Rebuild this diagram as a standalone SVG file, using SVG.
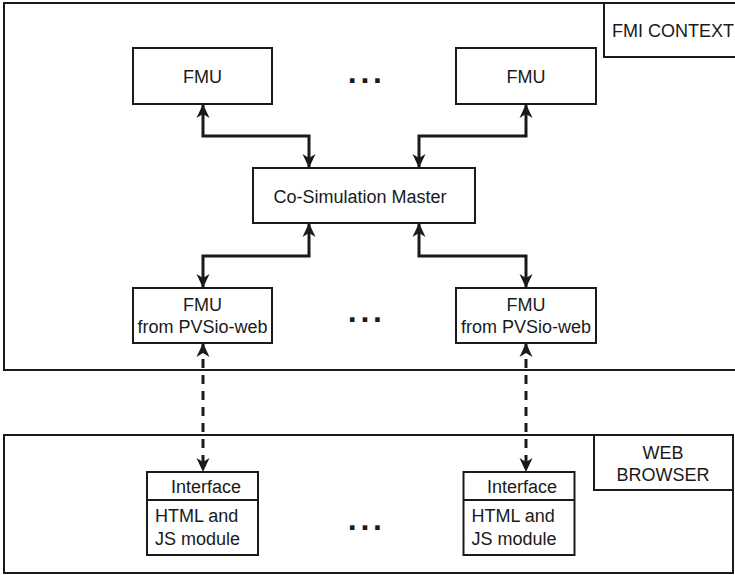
<svg xmlns="http://www.w3.org/2000/svg" width="735" height="575" viewBox="0 0 735 575">
  <style>
    .frame { fill: #ffffff; stroke: #1a1a1a; stroke-width: 2; }
    .box { fill: #ffffff; stroke: #1a1a1a; stroke-width: 2; }
    .lbl { font-family: "Liberation Sans", Arial, sans-serif; font-size: 18px; fill: #1a1a1a; }
    .mid { text-anchor: middle; }
    .dots { font-family: "Liberation Sans", Arial, sans-serif; font-size: 32px; font-weight: bold; fill: #1a1a1a; letter-spacing: 3.8px; }
    .link { fill: none; stroke: #1a1a1a; stroke-width: 3; marker-start: url(#head); marker-end: url(#head); }
    .dashed { stroke-dasharray: 9 7; }
  </style>
  <defs>
    <marker id="head" viewBox="0 0 14 14" refX="14" refY="7" markerWidth="14" markerHeight="14" markerUnits="userSpaceOnUse" orient="auto-start-reverse">
      <path d="M0,0.5 L14,7 L0,13.5 L4,7 Z" fill="#1a1a1a"/>
    </marker>
  </defs>

  <rect width="735" height="575" fill="#ffffff"/>

  <!-- FMI context frame -->
  <g id="fmi-context">
    <rect class="frame" x="4" y="3" width="745" height="367"/>
    <rect class="box" x="604" y="3" width="145" height="54"/>
    <text class="lbl" x="612" y="37">FMI CONTEXT</text>
  </g>

  <!-- web browser frame -->
  <g id="web-browser">
    <rect class="frame" x="4" y="435" width="729" height="138"/>
    <rect class="box" x="594" y="435" width="139" height="55"/>
    <text class="lbl mid" x="663" y="458.5">WEB</text>
    <text class="lbl mid" x="663" y="481">BROWSER</text>
  </g>

  <g id="fmu-1">
    <rect class="box" x="133" y="48" width="139" height="56"/>
    <text class="lbl mid" x="202.5" y="83">FMU</text>
  </g>
  <g id="fmu-n">
    <rect class="box" x="456" y="48" width="140" height="56"/>
    <text class="lbl mid" x="526" y="83">FMU</text>
  </g>
  <text class="dots" x="347.7" y="82.7">...</text>

  <g id="master">
    <rect class="box" x="253" y="168" width="222" height="55"/>
    <text class="lbl mid" x="360" y="203">Co-Simulation Master</text>
  </g>

  <g id="pvsio-fmu-1">
    <rect class="box" x="133" y="288" width="139" height="55"/>
    <text class="lbl mid" x="202.5" y="311">FMU</text>
    <text class="lbl mid" x="202.5" y="333">from PVSio-web</text>
  </g>
  <g id="pvsio-fmu-n">
    <rect class="box" x="456" y="288" width="140" height="55"/>
    <text class="lbl mid" x="526" y="311">FMU</text>
    <text class="lbl mid" x="526" y="333">from PVSio-web</text>
  </g>
  <text class="dots" x="347.7" y="322">...</text>

  <g id="interface-1">
    <rect class="box" x="147" y="472" width="111" height="83"/>
    <line x1="147" y1="500" x2="258" y2="500" stroke="#1a1a1a" stroke-width="2"/>
    <text class="lbl mid" x="206" y="492.5">Interface</text>
    <text class="lbl" x="155" y="522">HTML and</text>
    <text class="lbl" x="155" y="544.5">JS module</text>
  </g>
  <g id="interface-n">
    <rect class="box" x="463.5" y="472" width="111" height="83"/>
    <line x1="463.5" y1="500" x2="574.5" y2="500" stroke="#1a1a1a" stroke-width="2"/>
    <text class="lbl mid" x="522" y="492.5">Interface</text>
    <text class="lbl" x="471.5" y="522">HTML and</text>
    <text class="lbl" x="471.5" y="544.5">JS module</text>
  </g>
  <text class="dots" x="347.7" y="530">...</text>

  <!-- connectors -->
  <g id="connectors">
    <path class="link" d="M203,104 V136 H309 V168"/>
    <path class="link" d="M526,104 V136 H419 V168"/>
    <path class="link" d="M309,223 V256 H203 V288"/>
    <path class="link" d="M419,223 V256 H526 V288"/>
    <path class="link dashed" d="M203,343 V472"/>
    <path class="link dashed" d="M526,343 V472"/>
  </g>
</svg>
